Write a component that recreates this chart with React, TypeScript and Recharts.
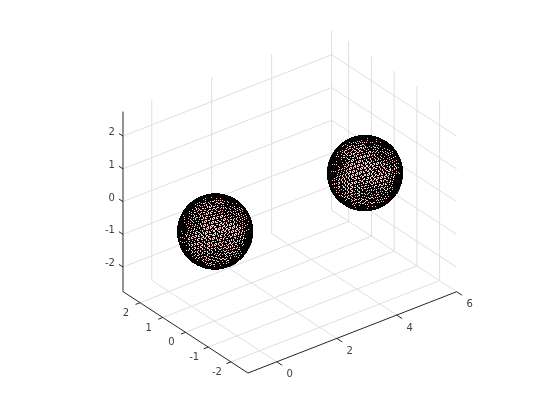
import React from "react";
import { ScatterChart, Scatter, XAxis, YAxis } from "recharts";

const xTicks = [0, 2, 4, 6];
const yTicks = [-2, -1, 0, 1, 2];
const zTicks = [-2, -1, 0, 1, 2];
const xLimits = [-0.96, 6];
const yLimits = [-2.75, 2.75];
const zLimits = [-2.75, 2.75];
const sphereCenters = [
  { x: 0, y: 0, z: 0, r: 1 },
  { x: 5, y: 0, z: 0, r: 1 },
];

const W = 560;
const H = 420;
const ORIGIN = { px: 248, py: 373 };
const UX = [29.98, -11.68];
const UY = [-22.73, -14.8];
const UZ = 32.73;
const UNIT = 37.7;

function project(x: number, y: number, z: number) {
  const dx = x - xLimits[0];
  const dy = y - yLimits[0];
  const dz = z - zLimits[0];
  return {
    px: ORIGIN.px + dx * UX[0] + dy * UY[0],
    py: ORIGIN.py + dx * UX[1] + dy * UY[1] - dz * UZ,
  };
}

type P3 = [number, number, number];
const GRID = "#dedede";
const AXIS = "#262626";

const gridSegments: [P3, P3][] = [
  ...xTicks.map((x) => [[x, yLimits[0], zLimits[0]], [x, yLimits[1], zLimits[0]]] as [P3, P3]),
  ...yTicks.map((y) => [[xLimits[0], y, zLimits[0]], [xLimits[1], y, zLimits[0]]] as [P3, P3]),
  ...xTicks.map((x) => [[x, yLimits[1], zLimits[0]], [x, yLimits[1], zLimits[1]]] as [P3, P3]),
  ...zTicks.map((z) => [[xLimits[0], yLimits[1], z], [xLimits[1], yLimits[1], z]] as [P3, P3]),
  ...yTicks.map((y) => [[xLimits[1], y, zLimits[0]], [xLimits[1], y, zLimits[1]]] as [P3, P3]),
  ...zTicks.map((z) => [[xLimits[1], yLimits[0], z], [xLimits[1], yLimits[1], z]] as [P3, P3]),
];

const axisSegments: [P3, P3][] = [
  [[xLimits[0], yLimits[0], zLimits[0]], [xLimits[1], yLimits[0], zLimits[0]]],
  [[xLimits[0], yLimits[0], zLimits[0]], [xLimits[0], yLimits[1], zLimits[0]]],
  [[xLimits[0], yLimits[1], zLimits[0]], [xLimits[0], yLimits[1], zLimits[1]]],
  ...xTicks.map((x) => [[x, yLimits[0], zLimits[0]], [x, yLimits[0] - 0.24, zLimits[0]]] as [P3, P3]),
  ...yTicks.map((y) => [[xLimits[0], y, zLimits[0]], [xLimits[0] - 0.15, y, zLimits[0]]] as [P3, P3]),
  ...zTicks.map((z) => [[xLimits[0], yLimits[1], z], [xLimits[0], yLimits[1] + 0.18, z]] as [P3, P3]),
];

const toLine = (s: [P3, P3]) => s.map((p) => project(p[0], p[1], p[2]));

const labelPoints = [
  ...xTicks.map((x) => {
    const p = project(x, yLimits[0], zLimits[0]);
    return { px: p.px + 13, py: p.py + 12, label: String(x), anchor: "middle" };
  }),
  ...yTicks.map((y) => {
    const p = project(xLimits[0], y, zLimits[0]);
    return { px: p.px - 14, py: p.py + 9.5, label: String(y), anchor: "middle" };
  }),
  ...zTicks.map((z) => {
    const p = project(xLimits[0], yLimits[1], z);
    return { px: p.px - 8, py: p.py - 4.5, label: String(z), anchor: "end" };
  }),
];

const sphereData = sphereCenters.map((c) => ({ ...project(c.x, c.y, c.z), r: c.r }));

const R3: P3 = [UX[0] / UNIT, UY[0] / UNIT, 0];
const U3: P3 = [-UX[1] / UNIT, -UY[1] / UNIT, UZ / UNIT];
const V3: P3 = [
  R3[1] * U3[2] - R3[2] * U3[1],
  R3[2] * U3[0] - R3[0] * U3[2],
  R3[0] * U3[1] - R3[1] * U3[0],
];
const dot = (a: P3, b: P3) => a[0] * b[0] + a[1] * b[1] + a[2] * b[2];

// Geodesic wireframe of the sphere surface: an icosahedron with subdivided faces.
const FREQ = 11;
const G = (1 + Math.sqrt(5)) / 2;
const ICO_V: P3[] = [
  [-1, G, 0], [1, G, 0], [-1, -G, 0], [1, -G, 0],
  [0, -1, G], [0, 1, G], [0, -1, -G], [0, 1, -G],
  [G, 0, -1], [G, 0, 1], [-G, 0, -1], [-G, 0, 1],
];
const ICO_F = [
  [0, 11, 5], [0, 5, 1], [0, 1, 7], [0, 7, 10], [0, 10, 11],
  [1, 5, 9], [5, 11, 4], [11, 10, 2], [10, 7, 6], [7, 1, 8],
  [3, 9, 4], [3, 4, 2], [3, 2, 6], [3, 6, 8], [3, 8, 9],
  [4, 9, 5], [2, 4, 11], [6, 2, 10], [8, 6, 7], [9, 8, 1],
];
const unit = (p: P3): P3 => {
  const l = Math.sqrt(dot(p, p));
  return [p[0] / l, p[1] / l, p[2] / l];
};

function SphereShape(props: any) {
  const { cx, cy, payload } = props;
  const rad = payload.r * UNIT;
  const ox = cx + 0.8;
  const oy = cy + 0.4;
  const seg = (a: P3, b: P3) => {
    if (dot(a, V3) < -0.02 || dot(b, V3) < -0.02) return "";
    return `M${(ox + dot(a, R3) * rad).toFixed(1)} ${(oy - dot(a, U3) * rad).toFixed(1)}L${(ox + dot(b, R3) * rad).toFixed(1)} ${(oy - dot(b, U3) * rad).toFixed(1)}`;
  };
  let d = "";
  for (const f of ICO_F) {
    const [A, B, C] = [ICO_V[f[0]], ICO_V[f[1]], ICO_V[f[2]]];
    const at = (i: number, j: number) => {
      const k = FREQ - i - j;
      return unit([
        (A[0] * k + B[0] * i + C[0] * j) / FREQ,
        (A[1] * k + B[1] * i + C[1] * j) / FREQ,
        (A[2] * k + B[2] * i + C[2] * j) / FREQ,
      ]);
    };
    for (let i = 0; i < FREQ; i++) {
      for (let j = 0; j < FREQ - i; j++) {
        const a = at(i, j);
        const b = at(i + 1, j);
        const c = at(i, j + 1);
        d += seg(a, b) + seg(b, c) + seg(c, a);
      }
    }
  }
  return (
    <g>
      <circle cx={ox} cy={oy} r={rad} fill="#ffcccc" stroke="#000" strokeWidth={0.5} shapeRendering="crispEdges" />
      <path d={d} fill="none" stroke="#000" strokeWidth={1} shapeRendering="crispEdges" />
    </g>
  );
}

function LabelShape(props: any) {
  const { cx, cy, payload } = props;
  return (
    <text x={cx} y={cy} dy="0.35em" textAnchor={payload.anchor} fontFamily="DejaVu Sans" fontSize={10} fill="#404040">
      {payload.label}
    </text>
  );
}

const NoDot = () => null;

export default function App() {
  return (
    <div style={{ position: "absolute", left: 0, top: 0, width: W, height: H, willChange: "transform" }}>
      <ScatterChart width={W} height={H} margin={{ top: 0, right: 0, bottom: 0, left: 0 }}>
        <XAxis type="number" dataKey="px" domain={[0, W]} hide />
        <YAxis type="number" dataKey="py" domain={[0, H]} reversed hide />
        {gridSegments.map((s, i) => (
          <Scatter key={`g${i}`} data={toLine(s)} line={{ stroke: GRID, strokeWidth: 1 }} shape={NoDot} isAnimationActive={false} />
        ))}
        <Scatter data={sphereData} shape={SphereShape} isAnimationActive={false} />
        {axisSegments.map((s, i) => (
          <Scatter key={`a${i}`} data={toLine(s)} line={{ stroke: AXIS, strokeWidth: 1 }} shape={NoDot} isAnimationActive={false} />
        ))}
        <Scatter data={labelPoints} shape={LabelShape} isAnimationActive={false} />
      </ScatterChart>
    </div>
  );
}
